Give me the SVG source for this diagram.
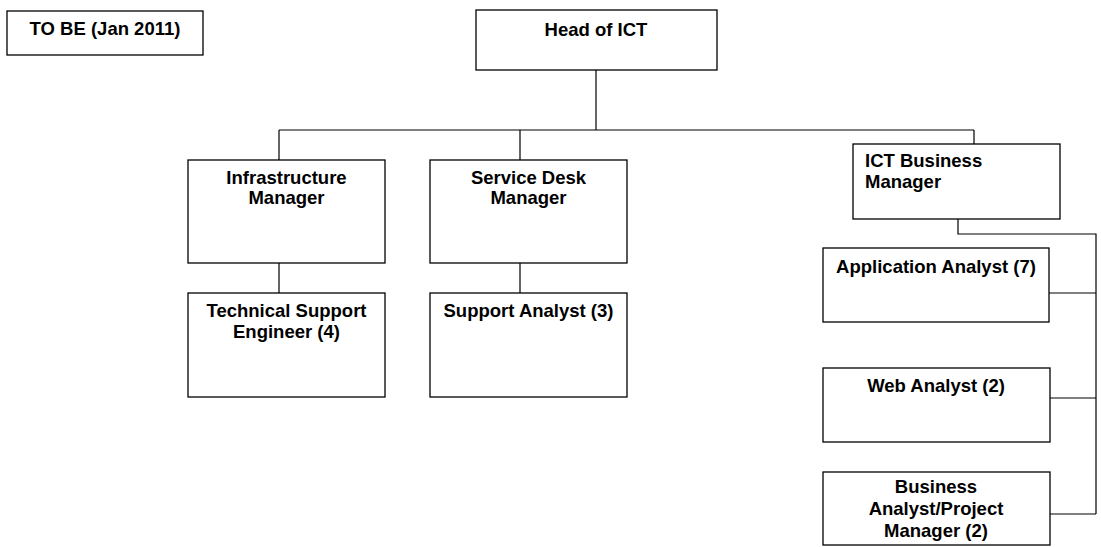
<svg xmlns="http://www.w3.org/2000/svg" width="1101" height="547" viewBox="0 0 1101 547">
<style>
.box{fill:#fff;stroke:#000;stroke-width:1.3}
.ln{fill:none;stroke:#000;stroke-width:1.2}
text{font-family:"Liberation Sans",Arial,sans-serif;font-weight:bold;font-size:18.5px;fill:#000}
.c{text-anchor:middle}
</style>
<rect width="1101" height="547" fill="#fff"/>
<g id="connectors">
<path class="ln" d="M596,70V130M279,130H974M279,130V160M520,130V160M974,130V144M279,263V293M520,263V293"/>
<path class="ln" d="M958,219V234H1096V514M1049,293H1096M1050,398H1096M1050,514H1096"/>
</g>
<g id="tobe"><rect class="box" x="7" y="11" width="196" height="44"/><text class="c" x="105" y="35">TO BE (Jan 2011)</text></g>
<g id="head"><rect class="box" x="476" y="10" width="241" height="60"/><text class="c" x="596" y="36">Head of ICT</text></g>
<g id="infra"><rect class="box" x="188" y="160" width="197" height="103"/><text class="c" x="286.5" y="184">Infrastructure</text><text class="c" x="286.5" y="204">Manager</text></g>
<g id="servicedesk"><rect class="box" x="430" y="160" width="197" height="103"/><text class="c" x="528.5" y="184">Service Desk</text><text class="c" x="528.5" y="204">Manager</text></g>
<g id="ictbm"><rect class="box" x="853" y="144" width="207" height="75"/><text x="865" y="167">ICT Business</text><text x="865" y="188">Manager</text></g>
<g id="tse"><rect class="box" x="188" y="293" width="197" height="104"/><text class="c" x="286.5" y="317">Technical Support</text><text class="c" x="286.5" y="338">Engineer (4)</text></g>
<g id="sa"><rect class="box" x="430" y="293" width="197" height="104"/><text class="c" x="528.5" y="317">Support Analyst (3)</text></g>
<g id="app"><rect class="box" x="823" y="248" width="226" height="74"/><text class="c" x="936" y="273">Application Analyst (7)</text></g>
<g id="web"><rect class="box" x="823" y="368" width="227" height="74"/><text class="c" x="936" y="392">Web Analyst (2)</text></g>
<g id="ba"><rect class="box" x="823" y="472" width="227" height="73"/><text class="c" x="936" y="493">Business</text><text class="c" x="936" y="515">Analyst/Project</text><text class="c" x="936" y="537">Manager (2)</text></g>
</svg>
